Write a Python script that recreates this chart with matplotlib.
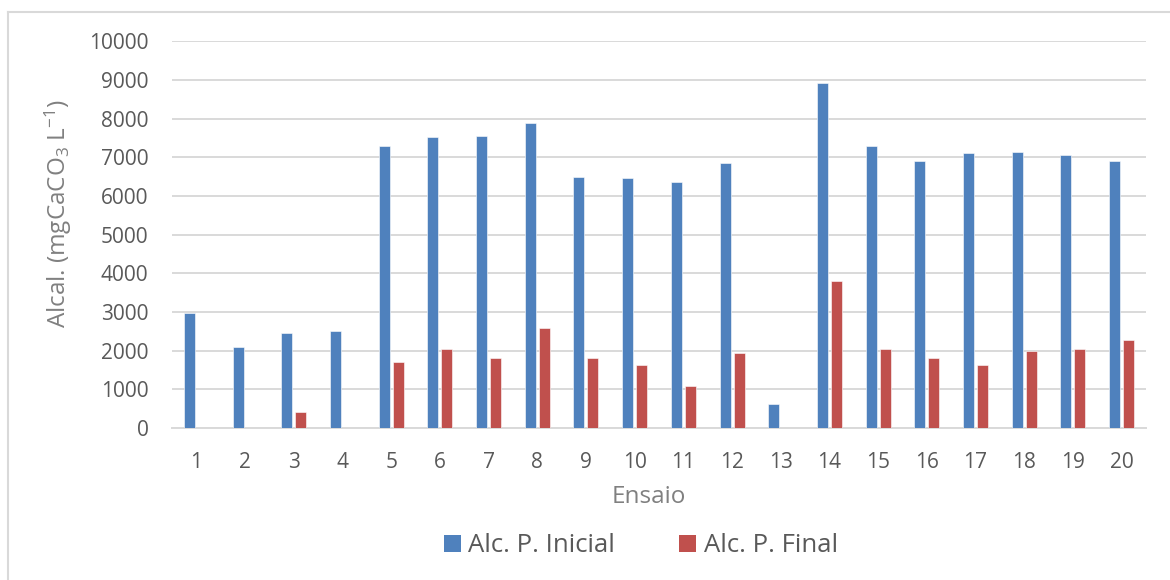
import matplotlib
matplotlib.use("Agg")
import matplotlib.pyplot as plt
from matplotlib.lines import Line2D
from matplotlib.patches import Patch
import numpy as np

plt.rcParams['font.family'] = ['Open Sans', 'DejaVu Sans']
plt.rcParams['mathtext.fontset'] = 'custom'
plt.rcParams['mathtext.rm'] = 'Open Sans'
plt.rcParams['mathtext.it'] = 'Open Sans'

ensaios = [str(i) for i in range(1, 21)]
alc_inicial = [2970, 2100, 2450, 2510, 7300, 7515, 7560, 7880, 6495, 6455,
               6365, 6860, 630, 8930, 7300, 6900, 7100, 7135, 7055, 6900]
alc_final = [0, 0, 415, 0, 1700, 2030, 1820, 2590, 1820, 1620,
             1095, 1950, 0, 3805, 2030, 1820, 1620, 1985, 2030, 2270]

BLUE = '#4F81BD'
RED = '#C0504D'
GRID = '#D9D9D9'
TICK = '#595959'
TITLE = '#808080'

W, H = 1170, 580
fig = plt.figure(figsize=(W / 100, H / 100), dpi=100)
ax = fig.add_axes([172 / W, 1 - 428 / H, (1146 - 172) / W, (428 - 41.3) / H])

x = np.arange(1, len(ensaios) + 1)
bw = 0.226
off = 0.144
ax.bar(x - off, alc_inicial, width=bw, color=BLUE, edgecolor='white',
       linewidth=0.4, zorder=3)
ax.bar(x + off, alc_final, width=bw, color=RED, edgecolor='white',
       linewidth=0.4, zorder=3)

ax.set_xlim(0.5, len(ensaios) + 0.5)
ax.set_ylim(0, 10000)
ax.set_yticks(np.arange(0, 10001, 1000))
ax.set_xticks(x)
ax.set_xticklabels(ensaios)
ax.yaxis.grid(True, color=GRID, linewidth=1.4, zorder=0)
ax.set_axisbelow(True)
for s in ['top', 'right', 'left']:
    ax.spines[s].set_visible(False)
ax.spines['bottom'].set_color(GRID)
ax.spines['bottom'].set_linewidth(1.4)
ax.tick_params(axis='both', length=0, labelsize=15, labelcolor=TICK)
ax.tick_params(axis='y', pad=17)
ax.tick_params(axis='x', pad=17.5)

fig.text(58 / W, 1 - 213 / H, r'Alcal. (mgCaCO$_3$ L$^{\mathregular{-1}}$)',
         rotation=90, ha='center', va='center', fontsize=17.5, color=TITLE)
fig.text(649 / W, 1 - 497 / H, 'Ensaio', ha='center', va='center',
         fontsize=17.5, color=TITLE)

handles = [Patch(facecolor=BLUE, edgecolor='none', label='Alc. P. Inicial'),
           Patch(facecolor=RED, edgecolor='none', label='Alc. P. Final')]
leg = fig.legend(handles=handles, loc='center', bbox_to_anchor=(641 / W, 1 - 546 / H),
                 ncol=2, frameon=False, fontsize=18.5, handlelength=0.66,
                 handleheight=0.66, handletextpad=0.28, columnspacing=2.5,
                 borderpad=0, borderaxespad=0)
for t in leg.get_texts():
    t.set_color(TICK)

# light frame around the chart area (top and left edges)
fig.add_artist(Line2D([8 / W, 1], [1 - 12 / H, 1 - 12 / H], color=GRID, linewidth=1.5,
                      transform=fig.transFigure))
fig.add_artist(Line2D([8 / W, 8 / W], [0, 1 - 12 / H], color=GRID, linewidth=1.5,
                      transform=fig.transFigure))

fig.savefig('out.png', dpi=100, facecolor='white')
